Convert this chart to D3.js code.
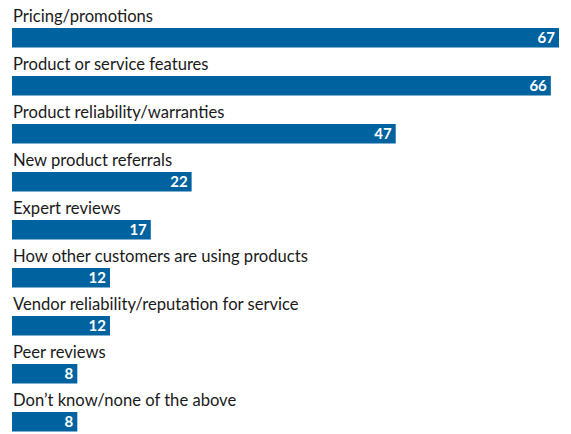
<!DOCTYPE html>
<html>
<head>
<meta charset="utf-8">
<script src="https://cdn.jsdelivr.net/npm/d3@7"></script>
<style>
  html, body { margin: 0; padding: 0; background: #fff; }
  svg { display: block; }
</style>
</head>
<body>
<svg id="chart" width="571" height="434"></svg>
<script>
// Survey responses: what drives purchase decisions (%)
const categories = [
  "Pricing/promotions",
  "Product or service features",
  "Product reliability/warranties",
  "New product referrals",
  "Expert reviews",
  "How other customers are using products",
  "Vendor reliability/reputation for service",
  "Peer reviews",
  "Don\u2019t know/none of the above"
];
const values = [67, 66, 47, 22, 17, 12, 12, 8, 8];

const width = 571, height = 434;
const left = 12, right = 559;
const rowTop = 28, rowStep = 48, barH = 19.5;

const svg = d3.select("#chart");

const x = d3.scaleLinear().domain([0, 67]).range([left, right]);
const y = d3.scaleBand()
  .domain(categories)
  .range([rowTop, rowTop + rowStep * categories.length])
  .paddingInner(0)
  .paddingOuter(0);

const rows = svg.selectAll("g.row")
  .data(categories.map((c, i) => ({ cat: c, val: values[i] })))
  .join("g")
  .attr("class", "row")
  .attr("transform", d => `translate(0,${y(d.cat)})`);

rows.append("text")
  .attr("x", left + 1)
  .attr("y", -6.5)
  .attr("font-family", "Lato, 'Open Sans', sans-serif")
  .attr("font-size", 16.6)
  .attr("fill", "#1a1a1a")
  .text(d => d.cat);

rows.append("rect")
  .attr("x", x(0))
  .attr("y", 0)
  .attr("width", d => x(d.val) - x(0))
  .attr("height", barH)
  .attr("fill", "#0063a0");

rows.append("text")
  .attr("x", d => x(d.val) - 4)
  .attr("y", barH / 2 + 5.5)
  .attr("text-anchor", "end")
  .attr("font-family", "Lato, 'Open Sans', sans-serif")
  .attr("font-weight", "bold")
  .attr("font-size", 15)
  .attr("fill", "#fff")
  .text(d => d.val);
</script>
</body>
</html>
